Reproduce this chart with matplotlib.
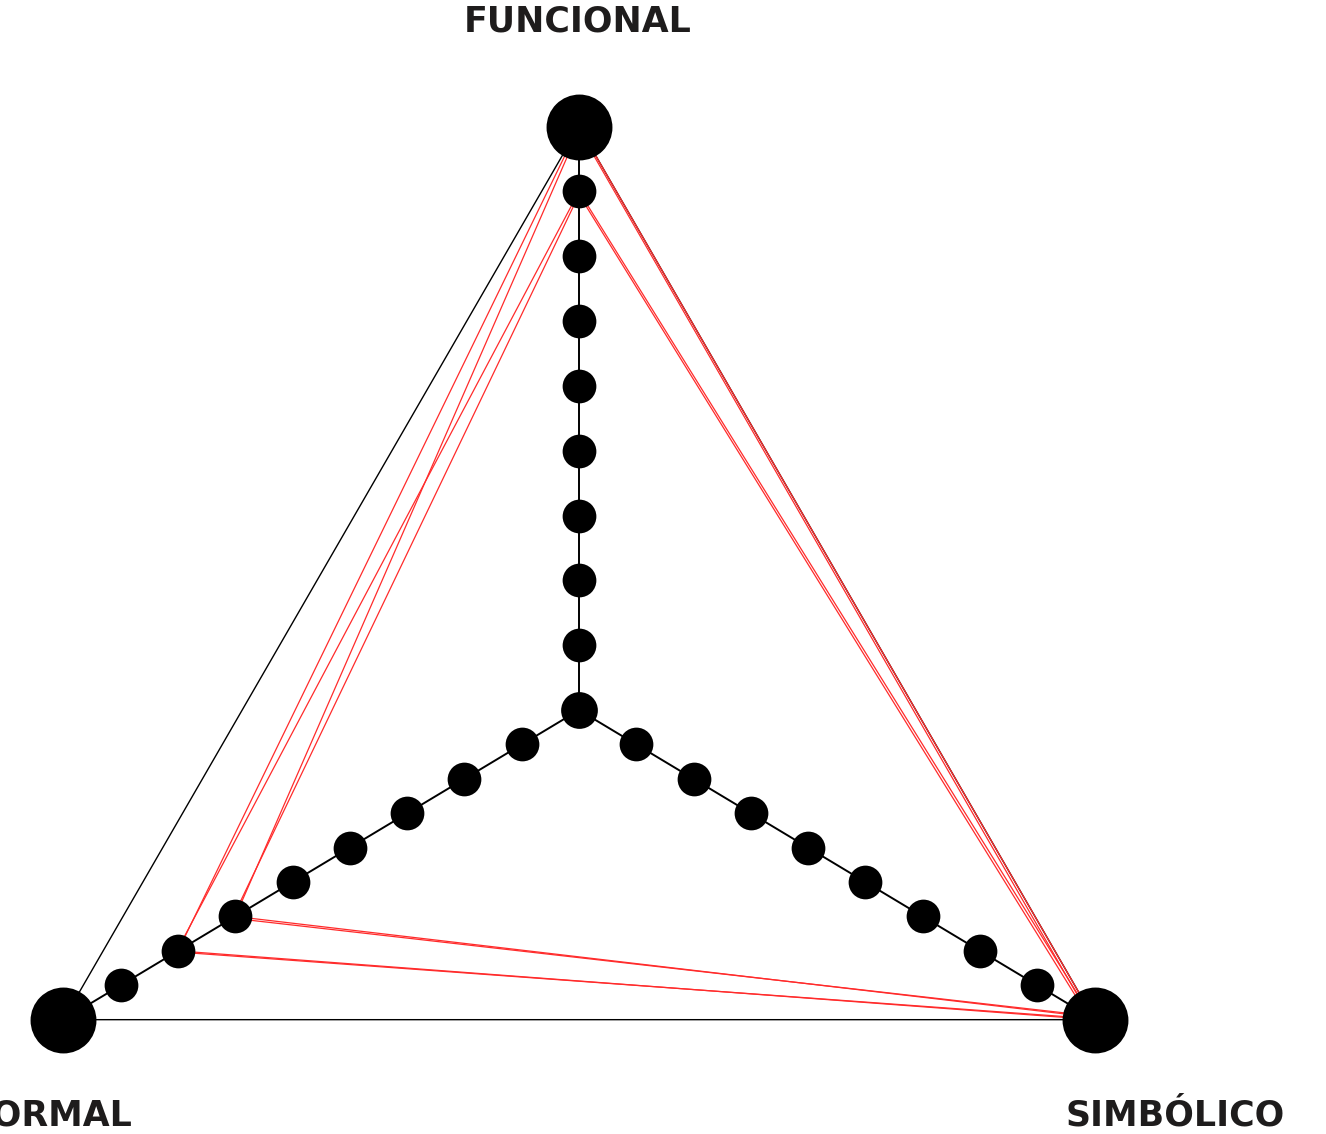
import numpy as np
import matplotlib.pyplot as plt

# axis names (top, bottom-left, bottom-right)
axis_labels = ['FUNCIONAL', 'FORMAL', 'SIMBÓLICO']
max_level = 9
scale_levels = [0, 1, 2, 3, 4, 5, 6, 7, 8]

# one red triangle per answer: level on each axis
funcional = [9, 8.95, 8, 7.95]
formal = [7, 6, 7.03, 6.05]
simbolico = [9, 8.92, 8.97, 8.88]

# geometry: equilateral triangle, hub slightly above its centroid
angles = np.deg2rad([90, 210, 330])
vertices = np.column_stack([np.cos(angles), np.sin(angles)]) * max_level
hub = np.array([0.0, 0.18])


def point(axis, level):
    return hub + (level / max_level) * (vertices[axis] - hub)


fig = plt.figure(figsize=(13.26, 11.34), dpi=100)
ax = fig.add_axes([0, 0, 1, 1])
px = 66.15          # pixels per level
cx, cy = 579, 722   # centroid in pixels (from top-left)
ax.set_xlim(-cx / px, (1326 - cx) / px)
ax.set_ylim(-(1134 - cy) / px, cy / px)
ax.axis('off')

# outer triangle
tri = np.vstack([vertices, vertices[:1]])
ax.plot(tri[:, 0], tri[:, 1], color='black', lw=1.0, zorder=1)

# axis spokes
for i in range(3):
    p = np.vstack([hub, vertices[i]])
    ax.plot(p[:, 0], p[:, 1], color='black', lw=1.4, zorder=1)

# answers
for f, fo, s in zip(funcional, formal, simbolico):
    pts = np.array([point(0, f), point(1, fo), point(2, s), point(0, f)])
    ax.plot(pts[:, 0], pts[:, 1], color='#ff2b2b', lw=0.9, zorder=2)

# scale dots
for i in range(3):
    pts = np.array([point(i, l) for l in scale_levels[1:]])
    ax.scatter(pts[:, 0], pts[:, 1], s=590, color='black', lw=0, zorder=5)
ax.scatter([hub[0]], [hub[1]], s=700, color='black', lw=0, zorder=5)
ax.scatter(vertices[:, 0], vertices[:, 1], s=2250, color='black', lw=0, zorder=5)

# labels (FORMAL runs off the left edge, as in the original)
label_pos = [(578, 22, 'center'), (133, 1115, 'right'), (1175, 1115, 'center')]
for name, (x, y, ha) in zip(axis_labels, label_pos):
    fig.text(x / 1326, 1 - y / 1134, name, ha=ha, va='center',
             fontsize=25, fontweight='heavy', color='#1e1c1c')

fig.savefig('out.png', dpi=100)
